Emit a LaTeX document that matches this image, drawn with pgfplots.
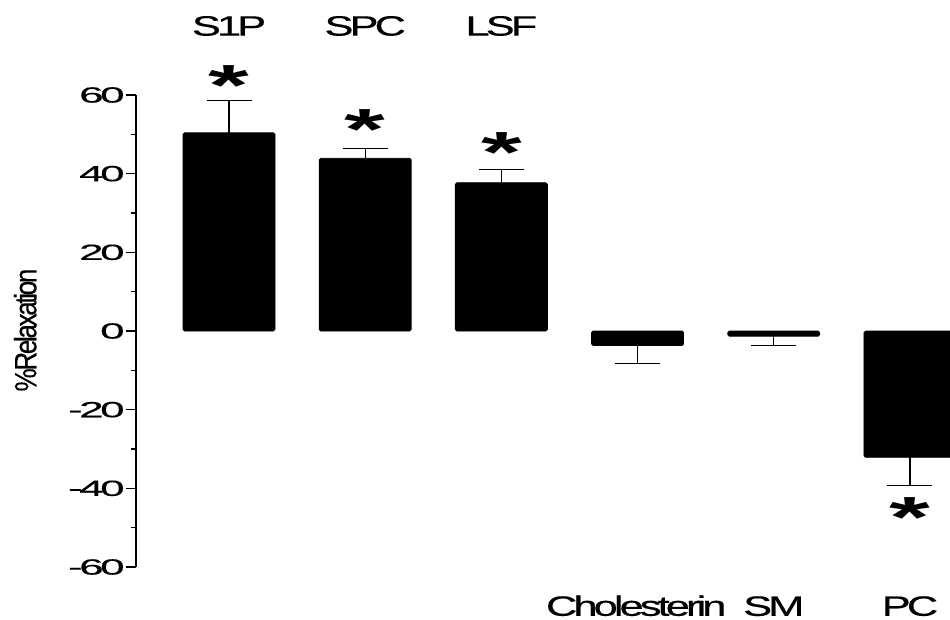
\documentclass[border=0pt]{standalone}
\usepackage{fontspec}
\setmainfont{Liberation Sans}
\newfontfamily\tightfont[LetterSpace=-9, FakeBold=0.4]{Liberation Sans}
\newfontfamily\numfont[LetterSpace=-8, FakeBold=0.4]{Liberation Sans}
\usepackage{pgfplots}
\pgfplotsset{compat=1.18}
\usepackage{pgfplotstable}

% mean relaxation and SEM, positive responses (error drawn upwards)
\pgfplotstableread{
x y err
0 50.4 8.2
1 43.9 2.6
2 37.7 3.4
}\raised
% negative responses (error drawn downwards)
\pgfplotstableread{
x y err
3 -3.7 4.5
4 -1.3 2.3
5 -32.1 7.2
}\lowered
% positions of the significance stars
\pgfplotstableread{
x y
0 65.5
1 54.3
2 48.5
5 -44.3
}\signif

\newcommand{\catlabel}[1]{\scalebox{1.55}[1]{\fontsize{14}{14}\tightfont #1}}

\begin{document}
\begin{tikzpicture}
\begin{axis}[
  scale only axis, width=407pt, height=236pt,
  xmin=-0.683, xmax=5.294, ymin=-60, ymax=60,
  axis x line=none, axis y line=left,
  axis line style={-, line width=0.6pt},
  ytick={-60,-40,...,60}, minor y tick num=1, tick align=outside,
  major tick length=5pt, minor tick length=2.5pt,
  tick style={line width=0.6pt, black},
  /pgf/number format/assume math mode=true,
  yticklabel={\scalebox{2.0}[1]{\fontsize{11}{11}\numfont\pgfmathprintnumber{\tick}}},
  yticklabel style={inner sep=0.5pt},
  every axis y label/.style={at={(axis description cs:-0.136,0.502)}, rotate=90, anchor=center},
  ylabel={\scalebox{0.93}[1.1]{\fontsize{14}{14}\tightfont\%Relaxation}},
  clip=false,
]
\addplot[ybar, bar width=46pt, bar shift=0pt, fill=black, draw=black,
  rounded corners=0.8pt,
  error bars/.cd, y dir=plus, y explicit,
  error bar style={line width=0.6pt, black, sharp corners},
  error mark options={rotate=90, mark size=11.25pt, line width=0.6pt, black}]
  table[x=x, y=y, y error=err] {\raised};
\addplot[ybar, bar width=46pt, bar shift=0pt, fill=black, draw=black,
  rounded corners=0.8pt,
  error bars/.cd, y dir=minus, y explicit,
  error bar style={line width=0.6pt, black, sharp corners},
  error mark options={rotate=90, mark size=11.25pt, line width=0.6pt, black}]
  table[x=x, y=y, y error=err] {\lowered};
\addplot[draw=none, mark=none,
  nodes near coords={\scalebox{1.8}[1]{\fontsize{29}{29}\selectfont\bfseries *}},
  every node near coord/.style={anchor=base, yshift=-16pt, inner sep=0pt}]
  table[x=x, y=y] {\signif};

\node[anchor=base] at (axis cs:0,75.1) {\catlabel{S1P}};
\node[anchor=base] at (axis cs:1,75.1) {\catlabel{SPC}};
\node[anchor=base] at (axis cs:2,75.1) {\catlabel{LSF}};
\node[anchor=base] at (axis cs:2.99,-72.4) {\catlabel{Cholesterin}};
\node[anchor=base] at (axis cs:4,-72.4) {\catlabel{SM}};
\node[anchor=base] at (axis cs:5,-72.4) {\catlabel{PC}};

\coordinate (lo) at (rel axis cs:0,0);
\coordinate (hi) at (rel axis cs:1,1);
\end{axis}
\pgfresetboundingbox
\path[use as bounding box] ([shift={(-68pt,-26pt)}]lo) rectangle ([shift={(0pt,47.5pt)}]hi);
\end{tikzpicture}
\end{document}
